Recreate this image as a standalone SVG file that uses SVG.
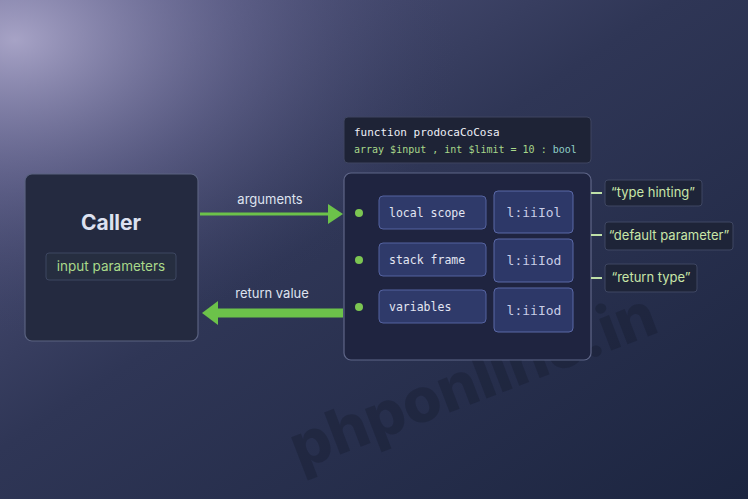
<svg xmlns="http://www.w3.org/2000/svg" width="748" height="499" viewBox="0 0 748 499">
<defs>
<linearGradient id="bg" x1="0" y1="0" x2="1" y2="1">
<stop offset="0" stop-color="#5a5c86"/>
<stop offset="0.45" stop-color="#2f3656"/>
<stop offset="1" stop-color="#1c2540"/>
</linearGradient>
<radialGradient id="glow" cx="0.02" cy="0.08" r="0.6">
<stop offset="0" stop-color="#b5b0d2" stop-opacity="0.85"/>
<stop offset="0.5" stop-color="#7e7ca8" stop-opacity="0.35"/>
<stop offset="1" stop-color="#3a3f66" stop-opacity="0"/>
</radialGradient>
<style>
.box{fill:#242a40;stroke:#5a6280;stroke-width:1.2}
.main{fill:#1f2440;stroke:#5f6688;stroke-width:1.2}
.pill{fill:#2f3a6a;stroke:#5563a0;stroke-width:1}
.pill2{fill:#2d3868;stroke:#5a68a6;stroke-width:1}
.note{fill:#1e2438;stroke:#3e4662;stroke-width:1}
.mono{font-family:"DejaVu Sans Mono","Liberation Mono",monospace}
.sans{font-family:"Inter","Liberation Sans",sans-serif}
.lbl{fill:#e3e6f2;font-size:11.5px}
.code{fill:#c9cde6;font-size:13px}
.dot{fill:#7cc652}
.tick{stroke:#bfe0a8;stroke-width:2}
</style>
</defs>
<rect width="748" height="499" fill="url(#bg)"/>
<rect width="748" height="499" fill="url(#glow)"/>
<text x="300" y="470" transform="rotate(-21 300 470)" class="sans" font-size="62" font-weight="800" fill="#141a2c" fill-opacity="0.35">phponline.in</text>

<g id="signature">
<rect x="344" y="117" width="247" height="46" rx="4" fill="#1e2336" stroke="#3e4560"/>
<text x="354" y="136" class="mono" font-size="11" fill="#eef0f6">function prodocaCoCosa</text>
<text x="354" y="153" class="mono" font-size="10" fill="#a8d78a">array $input , int $limit = 10 : <tspan fill="#8fd0c8">bool</tspan></text>
</g>

<g id="caller">
<rect x="25" y="174" width="173" height="167" rx="7" class="box"/>
<text x="111" y="230" text-anchor="middle" class="sans" font-size="21" font-weight="700" fill="#dde1f0">Caller</text>
<rect x="46" y="253" width="130" height="27" rx="3" fill="#262e40" stroke="#3d4660"/>
<text x="111" y="271" text-anchor="middle" class="sans" font-size="13.5" fill="#a9d98a">input parameters</text>
</g>

<g id="function">
<rect x="344" y="173" width="247" height="187" rx="7" class="main"/>
<circle cx="359" cy="213" r="4" class="dot"/>
<circle cx="359" cy="260" r="4" class="dot"/>
<circle cx="359" cy="307" r="4" class="dot"/>
<rect x="379" y="196" width="107" height="33" rx="4" class="pill"/>
<rect x="379" y="243" width="107" height="33" rx="4" class="pill"/>
<rect x="379" y="290" width="107" height="33" rx="4" class="pill"/>
<text x="389" y="217" class="mono lbl">local scope</text>
<text x="389" y="264" class="mono lbl">stack frame</text>
<text x="389" y="311" class="mono lbl">variables</text>
<rect x="494" y="191" width="79" height="42" rx="4" class="pill2"/>
<rect x="494" y="239" width="79" height="43" rx="4" class="pill2"/>
<rect x="494" y="288" width="79" height="44" rx="4" class="pill2"/>
<text x="534" y="217" text-anchor="middle" class="mono code">l:iiIol</text>
<text x="534" y="265" text-anchor="middle" class="mono code">l:iiIod</text>
<text x="534" y="315" text-anchor="middle" class="mono code">l:iiIod</text>
</g>

<g id="type-hinting">
<rect x="605" y="180" width="97" height="26" rx="3" class="note"/>
<text x="653" y="197" text-anchor="middle" class="sans" font-size="13" fill="#c9e6a8">“type hinting”</text>
</g>
<g id="default-parameter">
<rect x="605" y="222" width="128" height="28" rx="3" class="note"/>
<text x="669" y="240" text-anchor="middle" class="sans" font-size="13" fill="#c9e6a8">“default parameter”</text>
</g>
<g id="return-type">
<rect x="605" y="264" width="92" height="28" rx="3" class="note"/>
<text x="651" y="282" text-anchor="middle" class="sans" font-size="13" fill="#c9e6a8">“return type”</text>
</g>

<g id="connectors">
<line x1="200" y1="214" x2="331" y2="214" stroke="#6cc24a" stroke-width="3"/>
<polygon points="343,214 328,204 328,224" fill="#6cc24a"/>
<text x="270" y="204" text-anchor="middle" class="sans" font-size="13" fill="#dfe3ef">arguments</text>
<line x1="343" y1="313" x2="214" y2="313" stroke="#6cc24a" stroke-width="9"/>
<polygon points="202,313 218,301 218,325" fill="#6cc24a"/>
<text x="272" y="298" text-anchor="middle" class="sans" font-size="13" fill="#dfe3ef">return value</text>
<line x1="591" y1="193" x2="602" y2="193" class="tick"/>
<line x1="591" y1="235" x2="602" y2="235" class="tick"/>
<line x1="591" y1="278" x2="602" y2="278" class="tick"/>
</g>
</svg>
